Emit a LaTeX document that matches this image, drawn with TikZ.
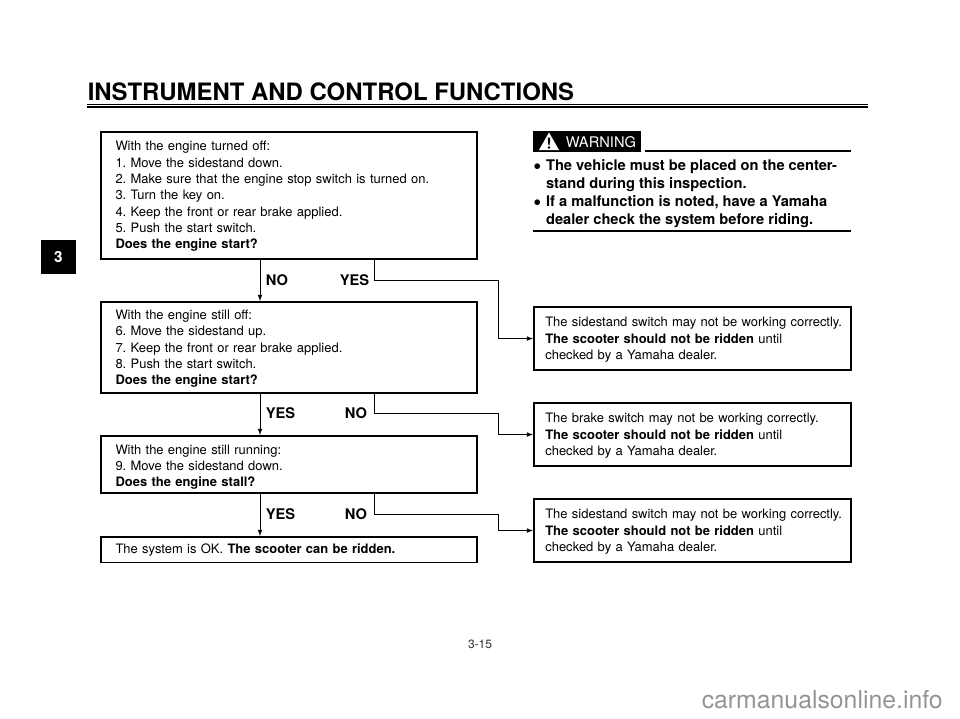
\documentclass[tikz,border=0pt]{standalone}
\usepackage{fontspec}
\setmainfont{TeX Gyre Heros}
\usetikzlibrary{positioning}
\usetikzlibrary{arrows}
\frenchspacing
\newcommand{\droptext}[1]{\rule{0pt}{#1}}
\newcommand{\warnbullet}{\makebox[9.6pt][l]{\raisebox{-2.2pt}{\fontsize{17}{13.5}\selectfont\textbullet}}}
\tikzset{
  flowbox/.style={draw, line width=1.25pt, anchor=north west, align=left, inner xsep=10.7pt, inner ysep=0pt, font=\fontsize{9.73}{12.25}\selectfont},
  answer/.style={font=\fontsize{11}{13}\selectfont\bfseries},
  flow/.style={->, >=latex, line width=0.6pt},
}
\begin{document}
\begin{tikzpicture}[x=0.75pt,y=-0.75pt]
\useasboundingbox (0,0) rectangle (960,718);
% heading
\node[anchor=base west, inner sep=0pt, font=\fontsize{17.95}{20}\selectfont\bfseries] (title) at (87.5,100) {INSTRUMENT AND CONTROL FUNCTIONS};
\coordinate (ruleL) at (87,104);
\coordinate (ruleR) at (868,104);
\draw[line width=0.6pt] (ruleL) -- (ruleR);
\draw[line width=1.5pt] ([yshift=-2.4pt]ruleL) -- ([yshift=-2.4pt]ruleR);
\node[fill=black, text=white, minimum width=26.2pt, minimum height=24.8pt, inner sep=0pt, font=\fontsize{11.5}{13}\selectfont\bfseries] (tab) at (58.5,257) {3};

% left column
\node[flowbox, minimum width=282pt, minimum height=95.2pt, text width=260pt] (start) at (100,131) {\droptext{8.8pt}With the engine turned off:\\
1. Move the sidestand down.\\
2. Make sure that the engine stop switch is turned on.\\
3. Turn the key on.\\
4. Keep the front or rear brake applied.\\
5. Push the start switch.\\
\textbf{Does the engine start?}};
\node[flowbox, minimum width=282pt, minimum height=68.2pt, text width=260pt] (still) at (100,301) {\droptext{9.5pt}With the engine still off:\\
6. Move the sidestand up.\\
7. Keep the front or rear brake applied.\\
8. Push the start switch.\\
\textbf{Does the engine start?}};
\node[flowbox, minimum width=282pt, minimum height=43pt, text width=260pt] (run) at (100,435) {\droptext{11pt}With the engine still running:\\
9. Move the sidestand down.\\
\textbf{Does the engine stall?}};
\node[flowbox, minimum width=282pt, minimum height=19.2pt, text width=260pt] (ok) at (100,536) {The system is OK. \textbf{The scooter can be ridden.}};

% right column
\node[flowbox, inner xsep=8.6pt, minimum width=238pt, minimum height=47.6pt, text width=220.8pt] (side) at (533,306) {\droptext{8.8pt}\mbox{The sidestand switch may not be working correctly.}\\
\textbf{The scooter should not be ridden} until\\
checked by a Yamaha dealer.};
\node[flowbox, inner xsep=8.6pt, minimum width=238pt, minimum height=47.6pt, text width=220.8pt] (brake) at (533,402) {\droptext{8.8pt}The brake switch may not be working correctly.\\
\textbf{The scooter should not be ridden} until\\
checked by a Yamaha dealer.};
\node[flowbox, inner xsep=8.6pt, minimum width=238pt, minimum height=47.6pt, text width=220.8pt] (side2) at (533,498) {\droptext{8.8pt}\mbox{The sidestand switch may not be working correctly.}\\
\textbf{The scooter should not be ridden} until\\
checked by a Yamaha dealer.};

% connectors
\coordinate (down1) at (260,258);
\coordinate (down2) at (260,393);
\coordinate (down3) at (260,493);
\draw[flow] (down1) -- (down1 |- still.north);
\draw[flow] (down2) -- (down2 |- run.north);
\draw[flow] (down3) -- (down3 |- ok.north);
\coordinate (out1) at (374,258);
\coordinate (out2) at (374,393);
\coordinate (out3) at (374,493);
\draw[flow] (out1) |- (498,280) |- (side.west);
\draw[flow] (out2) |- (498,413) |- (brake.west);
\draw[flow] (out3) |- (498,514) |- (side2.west);

\node[answer] (no1) at (277,280) {NO};
\node[answer] (yes1) at (354.5,280) {YES};
\node[answer] (yes2) at (280.5,413) {YES};
\node[answer] (no2) at (356,413) {NO};
\node[answer] (yes3) at (280.5,514) {YES};
\node[answer] (no3) at (356,514) {NO};

% warning
\node[fill=black, text=white, anchor=north west, inner sep=0pt, minimum width=80.5pt, minimum height=15.4pt, font=\fontsize{11}{12}\selectfont, text depth=0pt] (warnbox) at (533,131) {\hspace*{21pt}WARNING};
\fill[white] (539,150) -- (549,132.5) -- (559,150) -- cycle;
\fill[black] (547.7,137.5) -- (550.3,137.5) -- (549.6,145) -- (548.4,145) -- cycle;
\fill[black] (549,147.5) circle[radius=1.1pt];
\coordinate (warnL) at (645,151);
\coordinate (warnR) at (851,151);
\draw[line width=1.25pt] (warnL) -- (warnR);
\node[anchor=north west, align=left, inner sep=0pt, font=\fontsize{11}{13.5}\selectfont\bfseries] (warntext) at (533,159) {\warnbullet The vehicle must be placed on the center-\\
\hspace*{9.6pt}stand during this inspection.\\
\warnbullet If a malfunction is noted, have a Yamaha\\
\hspace*{9.6pt}dealer check the system before riding.};
\coordinate (warnbotL) at (533,231);
\coordinate (warnbotR) at (851,231);
\draw[line width=1.25pt] (warnbotL) -- (warnbotR);

% footer
\node[font=\fontsize{9}{11}\selectfont, text=black!80] (page) at (480,644) {3-15};
\node[anchor=base east, inner sep=0pt, font=\fontsize{18.6}{22}\selectfont, text=black!42] (site) at (943,708) {carmanualsonline.info};
\end{tikzpicture}
\end{document}
